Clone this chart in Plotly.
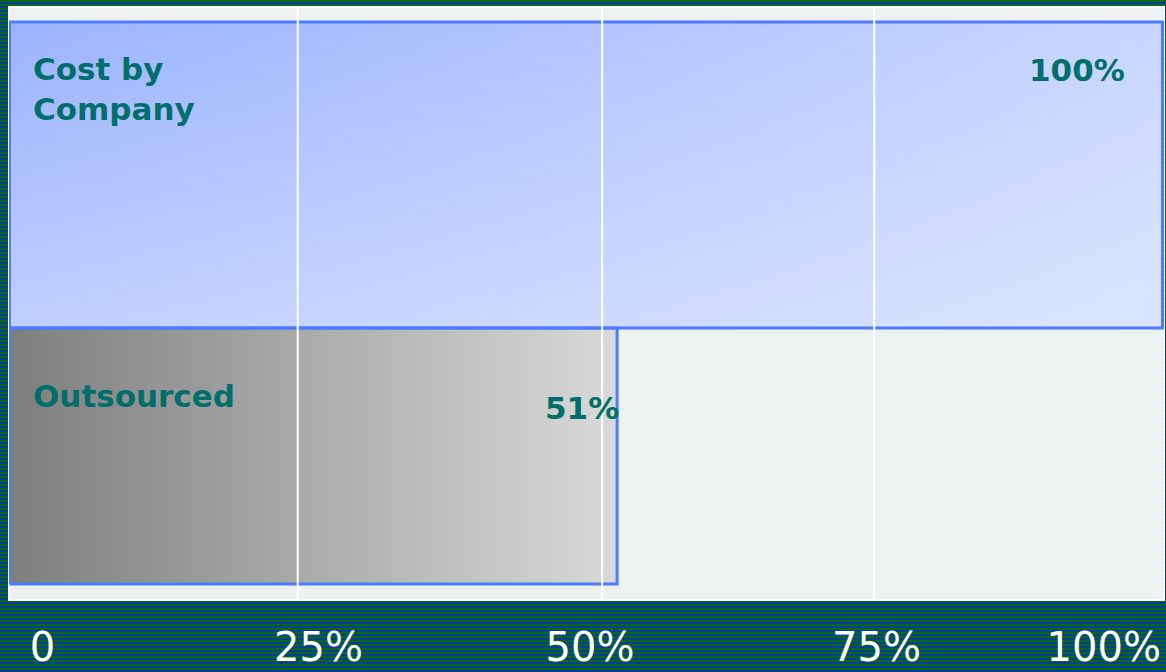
import plotly.graph_objects as go

# ---- data ----
categories = ["Cost by Company", "Outsourced"]
bar_lengths = [100, 52.7]          # drawn length (% of axis)
value_labels = ["100%", "51%"]
tick_labels = ["0", "25%", "50%", "75%", "100%"]
tick_positions = [2.86, 26.8, 50.35, 75.2, 94.9]
grid_positions = [25, 51.4, 75]

W, H = 1166, 672
ML, MR, MT, MB = 9, 2, 7, 72
PH = H - MT - MB

TEAL = "#006E6A"
OUTLINE = "#4D7BFF"
FONT = "DejaVu Sans"
LBL = 31

fig = go.Figure()

# bar geometry: category centres on y axis (Cost=1, Outsourced=0)
centers = [1, 0]
thick = [1.089, 0.911]

fills = [
    dict(type="horizontal", colorscale=[[0, "#9BB3FF"], [1, "#C8D6FF"]]),
    dict(type="horizontal", colorscale=[[0, "#7E7E7E"], [1, "#D9D9D9"]]),
]

for i, cat in enumerate(categories):
    c, t, v = centers[i], thick[i], bar_lengths[i]
    xs = [0, v, v, 0, 0]
    ys = [c - t / 2, c - t / 2, c + t / 2, c + t / 2, c - t / 2]
    fig.add_trace(go.Scatter(x=xs, y=ys, mode="lines", fill="toself",
                             fillgradient=fills[i], line=dict(width=0),
                             hoverinfo="skip", showlegend=False, cliponaxis=False))
    if i == 0:
        # vertical light overlay for the diagonal look
        fig.add_trace(go.Scatter(x=xs, y=ys, mode="lines", fill="toself",
                                 fillgradient=dict(type="vertical",
                                                   colorscale=[[0, "rgba(255,255,255,0.37)"],
                                                               [1, "rgba(255,255,255,0)"]]),
                                 line=dict(width=0), hoverinfo="skip",
                                 showlegend=False, cliponaxis=False))

# outlines (grey first, blue on top)
for i in [1, 0]:
    c, t, v = centers[i], thick[i], bar_lengths[i]
    xs = [0, v, v, 0, 0]
    ys = [c - t / 2, c - t / 2, c + t / 2, c + t / 2, c - t / 2]
    fig.add_trace(go.Scatter(x=xs, y=ys, mode="lines",
                             line=dict(color=OUTLINE, width=3),
                             hoverinfo="skip", showlegend=False, cliponaxis=False))

# background stripes (decoration)
shapes = []
for k in range(H // 4 + 1):
    top = 4 * k + 2
    bot = 4 * k + 4
    shapes.append(dict(type="rect", xref="paper", yref="paper",
                       x0=-0.02, x1=1.02,
                       y0=(H - MB - bot) / PH, y1=(H - MB - top) / PH,
                       fillcolor="#0A3A9C", line=dict(width=0), layer="below"))
shapes.append(dict(type="rect", xref="paper", yref="paper", x0=0, x1=1, y0=0, y1=1,
                   fillcolor="#EDF1F2", line=dict(color="white", width=2), layer="below"))
for g in grid_positions:
    shapes.append(dict(type="line", xref="x", yref="paper", x0=g, x1=g, y0=0, y1=1,
                       line=dict(color="white", width=2), layer="above"))

annotations = [
    dict(x=1.87, y=1.306, xref="x", yref="y", text="<b>Cost by<br>Company</b>",
         xanchor="left", yanchor="middle", align="left", showarrow=False,
         font=dict(family=FONT, size=LBL, color=TEAL)),
    dict(x=bar_lengths[0] - 3.1, y=1.374, xref="x", yref="y", text="<b>" + value_labels[0] + "</b>",
         xanchor="right", yanchor="middle", showarrow=False,
         font=dict(family=FONT, size=LBL, color=TEAL)),
    dict(x=1.87, y=0.2135, xref="x", yref="y", text="<b>" + categories[1] + "</b>",
         xanchor="left", yanchor="middle", align="left", showarrow=False,
         font=dict(family=FONT, size=LBL, color=TEAL)),
    dict(x=bar_lengths[1] - 6.4, y=0.171, xref="x", yref="y", text="<b>" + value_labels[1] + "</b>",
         xanchor="left", yanchor="middle", showarrow=False,
         font=dict(family=FONT, size=LBL, color=TEAL)),
]

fig.update_layout(
    template="none",
    width=W, height=H,
    margin=dict(l=ML, r=MR, t=MT, b=MB, pad=0, autoexpand=False),
    paper_bgcolor="#066A12",
    plot_bgcolor="#EDF1F2",
    shapes=shapes,
    annotations=annotations,
    showlegend=False,
    xaxis=dict(range=[-0.04, 100.13], showgrid=False, zeroline=False, showline=False,
               automargin=False,
               tickmode="array", tickvals=tick_positions, ticktext=tick_labels,
               ticks="", ticklabelstandoff=20, ticklabeloverflow="allow",
               tickfont=dict(family=FONT, size=40, color="white"), fixedrange=True),
    yaxis=dict(range=[-0.512, 1.598], showgrid=False, zeroline=False, showline=False,
               automargin=False, showticklabels=False, fixedrange=True),
)

fig.write_html("out.html", config={"displayModeBar": False},
               post_script="document.body.style.margin='0';document.body.style.overflow='hidden';")
